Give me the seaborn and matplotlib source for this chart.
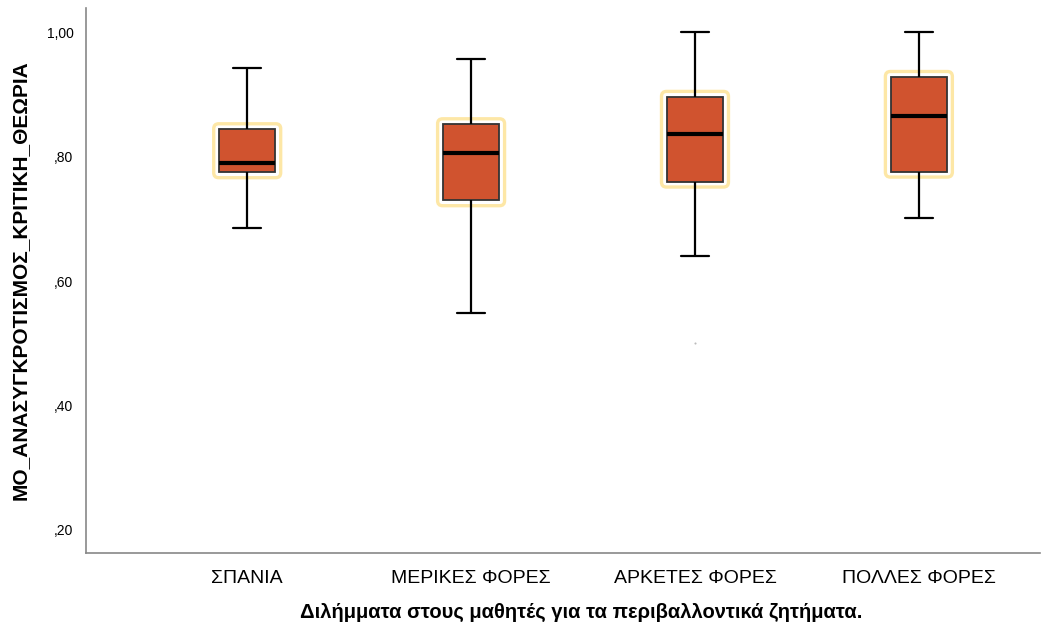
import numpy as np
import pandas as pd
import matplotlib
matplotlib.use("Agg")
import matplotlib.pyplot as plt
from matplotlib.patches import FancyBboxPatch
from matplotlib.transforms import IdentityTransform
import seaborn as sns

# five-number summaries
groups = ["ΣΠΑΝΙΑ", "ΜΕΡΙΚΕΣ ΦΟΡΕΣ", "ΑΡΚΕΤΕΣ ΦΟΡΕΣ", "ΠΟΛΛΕΣ ΦΟΡΕΣ"]
mins = [0.685, 0.549, 0.640, 0.701]
q1s = [0.775, 0.730, 0.760, 0.776]
medians = [0.790, 0.806, 0.836, 0.866]
q3s = [0.844, 0.852, 0.896, 0.928]
maxs = [0.943, 0.957, 1.000, 1.000]
outlier_groups = ["ΑΡΚΕΤΕΣ ΦΟΡΕΣ"]
outlier_values = [0.500]

yticks = [0.2, 0.4, 0.6, 0.8, 1.0]
ytick_labels = [",20", ",40", ",60", ",80", "1,00"]

rows = []
for g, a, b, c, d, e in zip(groups, mins, q1s, medians, q3s, maxs):
    for v in (a, b, c, d, e):
        rows.append({"grp": g, "val": v})
df = pd.DataFrame(rows)
out_df = pd.DataFrame({"grp": outlier_groups, "val": outlier_values})

sns.set_style("white")
plt.rcParams["font.family"] = ["Liberation Sans", "DejaVu Sans"]
plt.rcParams["text.color"] = "black"
plt.rcParams["axes.labelcolor"] = "black"
plt.rcParams["xtick.color"] = "black"
plt.rcParams["ytick.color"] = "black"

fig = plt.figure(figsize=(10.45, 6.29), dpi=100)
ax = fig.add_axes([0.0823, 0.1208, 0.9127, 0.8662])

box_color = "#D0532F"
sns.boxplot(data=df, x="grp", y="val", order=groups, width=0.25,
            whis=(0, 100), color=box_color, saturation=1,
            linecolor="#333333", linewidth=1.3,
            medianprops=dict(color="black", linewidth=3),
            whiskerprops=dict(color="black", linewidth=1.6),
            capprops=dict(color="black", linewidth=1.6),
            showfliers=False, ax=ax)
sns.stripplot(data=out_df, x="grp", y="val", order=groups, jitter=False,
              color="#bbbbbb", size=1.5, ax=ax)

ax.set_xlim(-0.72, 3.54)
ax.set_ylim(0.163, 1.0386)
ax.set_yticks(yticks)
ax.set_yticklabels(ytick_labels, fontsize=10)
ax.tick_params(axis="x", labelsize=14, pad=12, length=0)
ax.tick_params(axis="y", length=0, pad=9)
ax.set_xlabel("Διλήμματα στους μαθητές για τα περιβαλλοντικά ζητήματα.",
              fontsize=14.5, fontweight="bold")
ax.xaxis.set_label_coords(0.519, -0.091)
ax.set_ylabel("ΜΟ_ΑΝΑΣΥΓΚΡΟΤΙΣΜΟΣ_ΚΡΙΤΙΚΗ_ΘΕΩΡΙΑ",
              fontsize=15, fontweight="bold", labelpad=12)
for s in ["top", "right"]:
    ax.spines[s].set_visible(False)
for s in ["left", "bottom"]:
    ax.spines[s].set_color("#888888")
    ax.spines[s].set_linewidth(1.2)

# yellow glow around each box, taken from the drawn box patches
for p in list(ax.patches):
    ext = p.get_path().get_extents(p.get_transform())
    glow = FancyBboxPatch((ext.x0, ext.y0), ext.width, ext.height,
                          boxstyle="round,pad=5.5,rounding_size=5",
                          transform=IdentityTransform(),
                          facecolor="white", edgecolor="#FDE7A6",
                          linewidth=2.4, zorder=0.5, clip_on=False)
    ax.add_patch(glow)

fig.savefig("out.png", dpi=100)
